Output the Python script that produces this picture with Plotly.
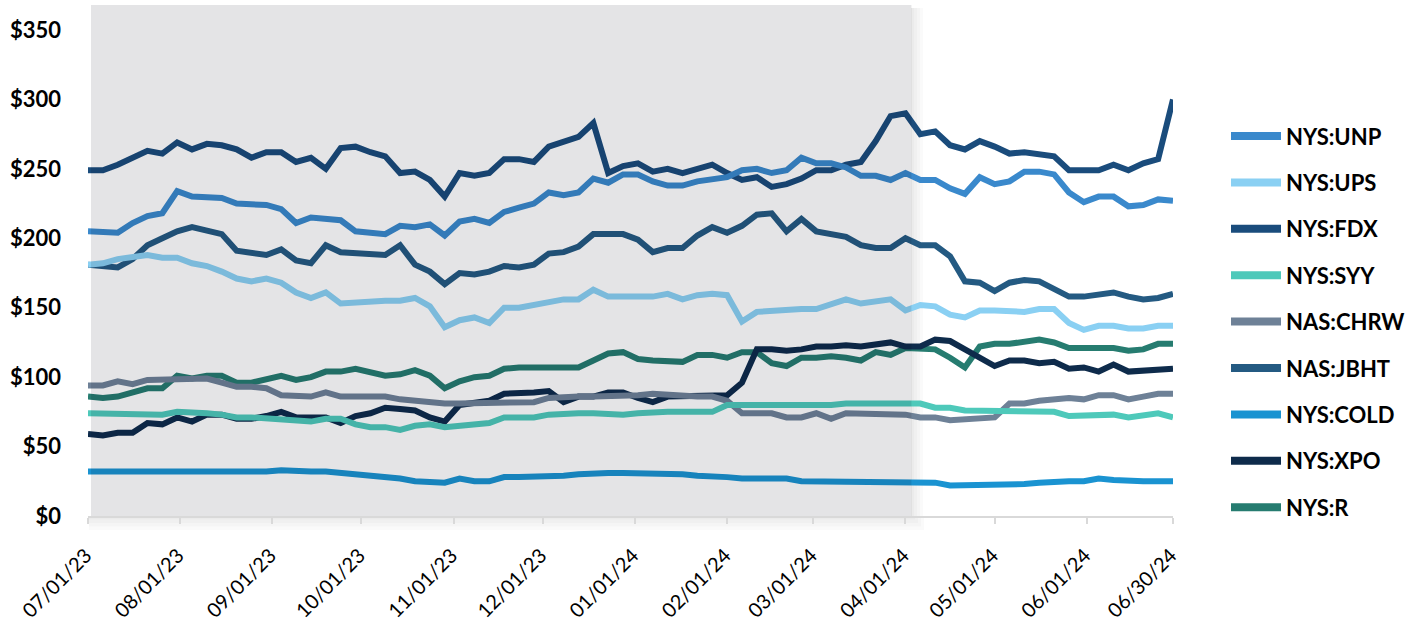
import pandas as pd
import plotly.graph_objects as go

# ---------------- data ----------------
start_date = "2023-07-01"
n_points = 74
dates = pd.date_range(start_date, periods=n_points, freq="5D")

x_tickvals = ["2023-07-01", "2023-08-01", "2023-09-01", "2023-10-01", "2023-11-01",
              "2023-12-01", "2024-01-01", "2024-02-01", "2024-03-01", "2024-04-01",
              "2024-05-01", "2024-06-01", "2024-06-30"]
x_ticktext = ["07/01/23", "08/01/23", "09/01/23", "10/01/23", "11/01/23", "12/01/23",
              "01/01/24", "02/01/24", "03/01/24", "04/01/24", "05/01/24", "06/01/24",
              "06/30/24"]
y_tickvals = [0, 50, 100, 150, 200, 250, 300, 350]
y_ticktext = ["$0", "$50", "$100", "$150", "$200", "$250", "$300", "$350"]

shade_start = "2023-07-02"
shade_end = "2024-04-03"

names = ["NYS:UNP", "NYS:UPS", "NYS:FDX", "NYS:SYY", "NAS:CHRW",
         "NAS:JBHT", "NYS:COLD", "NYS:XPO", "NYS:R"]
colors = ["#3a89cc", "#8ad0f3", "#1a4c7c", "#4ec9ba", "#6e8197",
          "#245a82", "#1a93d1", "#0e2b4b", "#267c70"]

UNP = [205, 205, 204, 211, 216, 218, 234, 230, 230, 229, 225, 225, 224, 221, 211, 215,
       214, 213, 205, 204, 203, 209, 208, 210, 202, 212, 214, 211, 219, 222, 225, 233,
       231, 233, 243, 240, 246, 246, 241, 238, 238, 241, 242, 244, 249, 250, 247, 249,
       258, 254, 254, 251, 245, 245, 242, 247, 242, 242, 236, 232, 244, 239, 241, 248,
       248, 246, 233, 226, 230, 230, 223, 224, 228, 227]
UPS = [181, 182, 185, 187, 188, 186, 186, 182, 180, 176, 171, 169, 171, 168, 161, 157,
       161, 153, 154, 155, 155, 155, 157, 151, 136, 141, 143, 139, 150, 150, 152, 155,
       156, 156, 163, 158, 158, 158, 158, 160, 156, 159, 160, 159, 140, 147, 148, 149,
       149, 149, 153, 156, 153, 154, 156, 148, 152, 151, 145, 143, 148, 148, 147, 147,
       149, 149, 139, 134, 137, 137, 135, 135, 137, 137]
FDX = [249, 249, 253, 258, 263, 261, 269, 264, 268, 267, 264, 258, 262, 262, 255, 258,
       250, 265, 266, 262, 259, 247, 248, 242, 230, 247, 245, 247, 257, 257, 255, 266,
       269, 273, 283, 247, 252, 254, 248, 250, 247, 250, 253, 247, 242, 244, 237, 239,
       243, 249, 249, 253, 255, 270, 288, 290, 275, 277, 267, 264, 270, 266, 261, 262,
       260, 259, 249, 249, 249, 253, 249, 254, 257, 300]
SYY = [74, 74, 74, 74, 73, 73, 75, 75, 74, 73, 71, 71, 70, 70, 68, 68,
       70, 70, 66, 64, 64, 62, 65, 66, 64, 65, 66, 67, 71, 71, 71, 73,
       74, 74, 74, 73, 73, 74, 75, 75, 75, 75, 75, 80, 80, 80, 79, 79,
       79, 79, 80, 81, 81, 81, 81, 81, 81, 78, 78, 76, 76, 76, 76, 76,
       76, 75, 72, 72, 73, 73, 71, 72, 74, 71]
CHRW = [94, 94, 97, 95, 98, 98, 99, 98, 99, 96, 93, 93, 92, 87, 86, 86,
        89, 86, 86, 86, 86, 84, 83, 81, 81, 81, 81, 81, 81, 82, 82, 85,
        86, 86, 86, 86, 87, 87, 88, 87, 86, 86, 86, 83, 74, 74, 74, 71,
        71, 74, 70, 74, 74, 74, 73, 73, 71, 71, 69, 70, 70, 71, 81, 81,
        83, 84, 85, 84, 87, 87, 84, 86, 88, 88]
JBHT = [181, 180, 179, 185, 195, 200, 205, 208, 205, 203, 191, 190, 188, 192, 184, 182,
        195, 190, 189, 188, 188, 195, 181, 176, 167, 175, 174, 176, 180, 179, 181, 189,
        190, 194, 203, 203, 203, 199, 190, 193, 193, 202, 208, 204, 209, 217, 218, 205,
        214, 205, 203, 201, 195, 193, 193, 200, 195, 195, 187, 169, 168, 162, 168, 170,
        169, 164, 158, 158, 160, 161, 158, 156, 157, 160]
COLD = [32, 32, 32, 32, 32, 32, 32, 31, 31, 31, 31, 31, 32, 33, 32, 32,
        32, 31, 30, 29, 29, 27, 25, 25, 24, 27, 25, 25, 28, 28, 28, 28,
        29, 30, 31, 31, 31, 31, 30, 30, 30, 29, 29, 28, 27, 27, 27, 27,
        25, 25, 25, 25, 25, 25, 25, 25, 24, 24, 22, 22, 22, 22, 23, 23,
        24, 25, 25, 25, 27, 26, 25, 25, 25, 25]
XPO = [59, 58, 60, 60, 67, 66, 71, 68, 73, 73, 70, 70, 72, 75, 71, 71,
       71, 67, 72, 74, 78, 77, 76, 71, 68, 80, 81, 83, 88, 88, 89, 90,
       82, 86, 86, 89, 89, 85, 82, 86, 86, 86, 87, 87, 96, 120, 120, 119,
       120, 122, 122, 123, 122, 123, 125, 122, 122, 127, 126, 120, 114, 108, 112, 112,
       110, 111, 106, 107, 104, 109, 104, 105, 105, 106]
R = [86, 85, 86, 89, 92, 92, 101, 99, 101, 101, 96, 96, 98, 101, 98, 100,
     104, 104, 106, 104, 101, 102, 105, 101, 92, 97, 100, 101, 106, 107, 107, 107,
     107, 107, 112, 117, 118, 113, 112, 111, 111, 116, 116, 114, 118, 118, 110, 108,
     114, 114, 115, 114, 112, 118, 116, 121, 120, 120, 114, 107, 122, 124, 124, 125,
     127, 125, 121, 121, 121, 121, 119, 120, 124, 124]

series = [UNP, UPS, FDX, SYY, CHRW, JBHT, COLD, XPO, R]

# ---------------- figure ----------------
W, H = 1424, 631
ML, MR, MT, MB = 88, 251, 5, 115
plot_w = W - ML - MR
plot_h = H - MT - MB
FONT = "Lato, Open Sans, sans-serif"


def px_x(px):
    return (px - ML) / plot_w


def px_y(py):
    return (H - MB - py) / plot_h


fig = go.Figure()

for name, col, vals in reversed(list(zip(names, colors, series))):
    fig.add_trace(go.Scatter(
        x=dates, y=vals, mode="lines", name=name,
        line=dict(color=col, width=6), showlegend=False,
        hovertemplate="%{x|%m/%d/%y}: $%{y}<extra>" + name + "</extra>",
    ))

# shaded period: translucent overlay above lines
fig.add_shape(type="rect", xref="x", yref="y",
              x0=shade_start, x1=shade_end, y0=0, y1=368,
              fillcolor="rgba(0,0,20,0.105)", line=dict(width=0), layer="above")

# soft drop shadow of the shaded panel (bottom and right edges)
for k in range(1, 5):
    fig.add_shape(type="rect", xref="paper", yref="paper",
                  x0=px_x(89), x1=px_x(912 + 3 * k), y0=px_y(516 + 3.5 * k), y1=px_y(517),
                  fillcolor="rgba(0,0,0,0.018)", line=dict(width=0), layer="below")
    fig.add_shape(type="rect", xref="paper", yref="paper",
                  x0=px_x(911), x1=px_x(911 + 3 * k), y0=px_y(516), y1=px_y(8),
                  fillcolor="rgba(0,0,0,0.018)", line=dict(width=0), layer="below")

# manual legend (long, thick swatches)
legend_top_px = 136
legend_step_px = 46.4
for k, (name, col) in enumerate(zip(names, colors)):
    yp = px_y(legend_top_px + k * legend_step_px)
    fig.add_shape(type="line", xref="paper", yref="paper",
                  x0=px_x(1231), x1=px_x(1281), y0=yp, y1=yp,
                  line=dict(color=col, width=8))
    fig.add_annotation(xref="paper", yref="paper", x=px_x(1284), y=yp,
                       text=name, showarrow=False, xanchor="left", yanchor="middle",
                       font=dict(family=FONT, size=22, color="#000000", weight="bold"))

fig.update_layout(
    width=W, height=H,
    margin=dict(l=ML, r=MR, t=MT, b=MB, pad=0),
    paper_bgcolor="white", plot_bgcolor="rgba(0,0,0,0)",
    font=dict(family=FONT, color="#000000"),
    showlegend=False,
)
fig.update_xaxes(
    type="date", range=["2023-07-01", "2024-06-30"],
    tickvals=x_tickvals, ticktext=x_ticktext, tickangle=-45,
    tickfont=dict(family=FONT, size=20, color="#000000"),
    showgrid=False, zeroline=False,
    showline=True, linecolor="#d9d9d9", linewidth=2,
    ticks="outside", ticklen=6, tickcolor="#d9d9d9", tickwidth=1.5,
    ticklabelstandoff=12, ticklabelshift=-2,
)
fig.update_yaxes(
    range=[0, 368], tickvals=y_tickvals, ticktext=y_ticktext,
    tickfont=dict(family=FONT, size=22, color="#000000", weight="bold"),
    showgrid=False, zeroline=False, showline=False, ticks="",
    ticklabelstandoff=26,
)

fig.write_html("out.html", config={"displayModeBar": False},
               post_script="document.body.style.margin='0px';")
